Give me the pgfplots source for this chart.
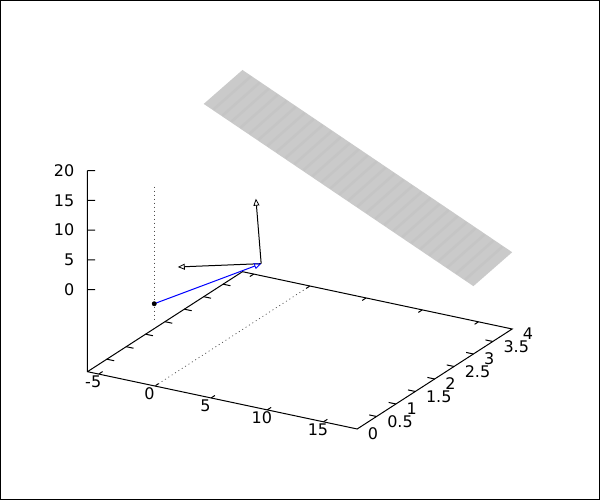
\documentclass[border=0pt]{standalone}
\usepackage{fontspec}
\setmainfont{DejaVu Sans}
\usepackage{pgfplots}
\pgfplotsset{compat=1.18}
\usetikzlibrary{arrows.meta}
\definecolor{planegray}{HTML}{CACACA}
\definecolor{stripegray}{HTML}{C5C5C5}
\tikzset{vechead/.style={-{Triangle[open, length=7pt, width=6pt, line width=0.8pt]}}}

\begin{document}
\begin{tikzpicture}
\begin{axis}[
    x={(11.2375pt,-2.3875pt)},
    y={(38.75pt,25pt)},
    z={(0pt,5.95pt)},
    xmin=-6, xmax=18,
    ymin=0, ymax=4,
    zmin=-13.8, zmax=20,
    clip=false,
    axis line style={draw=none},
    major tick length=0pt,
    xtick={-5,0,5,10,15},
    ytick={0,0.5,1,1.5,2,2.5,3,3.5,4},
    yticklabels={0,0.5,1,1.5,2,2.5,3,3.5,4},
    ztick={0,5,10,15,20},
    /pgf/number format/assume math mode=true,
    tick label style={font=\fontsize{16}{18}\selectfont, inner sep=0pt},
    xticklabel style={anchor=center, xshift=-5.5pt, yshift=-7.5pt},
    yticklabel style={anchor=west, xshift=10.5pt, yshift=-5pt},
    zticklabel style={anchor=east, xshift=-13pt},
]
% plane
\addplot3[draw=none, fill=planegray] coordinates {
    (-6,3,18.6) (-6,4,20.1) (18,4,-0.9) (18,3,-2.4)
} -- cycle;
% faint bands across the plane
\addplot3[stripegray, line width=2.5pt, line cap=butt, empty line=jump] table {
-5.2 3.02 17.9
-5.2 3.98 19.4

-4.4 3.02 17.2
-4.4 3.98 18.7

-3.6 3.02 16.5
-3.6 3.98 18.0

-2.8 3.02 15.8
-2.8 3.98 17.3

-2.0 3.02 15.1
-2.0 3.98 16.6

-1.2 3.02 14.4
-1.2 3.98 15.9

-0.4 3.02 13.7
-0.4 3.98 15.2

0.4 3.02 13.0
0.4 3.98 14.5

1.2 3.02 12.3
1.2 3.98 13.8

2.0 3.02 11.6
2.0 3.98 13.1

2.8 3.02 10.9
2.8 3.98 12.4

3.6 3.02 10.2
3.6 3.98 11.7

4.4 3.02 9.5
4.4 3.98 11.0

5.2 3.02 8.8
5.2 3.98 10.3

6.0 3.02 8.1
6.0 3.98 9.6

6.8 3.02 7.4
6.8 3.98 8.9

7.6 3.02 6.7
7.6 3.98 8.2

8.4 3.02 6.0
8.4 3.98 7.5

9.2 3.02 5.3
9.2 3.98 6.8

10.0 3.02 4.6
10.0 3.98 6.1

10.8 3.02 3.9
10.8 3.98 5.4

11.6 3.02 3.2
11.6 3.98 4.7

12.4 3.02 2.5
12.4 3.98 4.0

13.2 3.02 1.8
13.2 3.98 3.3

14.0 3.02 1.1
14.0 3.98 2.6

14.8 3.02 0.4
14.8 3.98 1.9

15.6 3.02 -0.3
15.6 3.98 1.2

16.4 3.02 -1.0
16.4 3.98 0.5

17.2 3.02 -1.7
17.2 3.98 -0.2
};
% border of the base and z axis
\addplot3[black, line width=1pt] coordinates {
    (-6,0,20) (-6,0,-13.8) (18,0,-13.8) (18,4,-13.8) (-6,4,-13.8) (-6,0,-13.8)
};
% tick marks
\addplot3[black, line width=1pt, empty line=jump] table {
-5 0 -13.8
-5 0.1 -13.8

0 0 -13.8
0 0.1 -13.8

5 0 -13.8
5 0.1 -13.8

10 0 -13.8
10 0.1 -13.8

15 0 -13.8
15 0.1 -13.8

-5 4 -13.8
-5 3.9 -13.8

0 4 -13.8
0 3.9 -13.8

5 4 -13.8
5 3.9 -13.8

10 4 -13.8
10 3.9 -13.8

15 4 -13.8
15 3.9 -13.8

-6 0.5 -13.8
-5.35 0.5 -13.8

-6 1 -13.8
-5.35 1 -13.8

-6 1.5 -13.8
-5.35 1.5 -13.8

-6 2 -13.8
-5.35 2 -13.8

-6 2.5 -13.8
-5.35 2.5 -13.8

-6 3 -13.8
-5.35 3 -13.8

-6 3.5 -13.8
-5.35 3.5 -13.8

18 0.5 -13.8
17.35 0.5 -13.8

18 1 -13.8
17.35 1 -13.8

18 1.5 -13.8
17.35 1.5 -13.8

18 2 -13.8
17.35 2 -13.8

18 2.5 -13.8
17.35 2.5 -13.8

18 3 -13.8
17.35 3 -13.8

18 3.5 -13.8
17.35 3.5 -13.8

-6 0 0
-5.49 0.049 0

-6 0 5
-5.49 0.049 5

-6 0 10
-5.49 0.049 10

-6 0 15
-5.49 0.049 15

-6 0 20
-5.49 0.049 20
};
% zero axes
\addplot3[black!70, line width=0.7pt, dash pattern=on 1pt off 3pt] coordinates {(0,0,-13.8) (0,4,-13.8)};
\addplot3[black!70, line width=0.7pt, dash pattern=on 1pt off 3pt] coordinates {(-0.06,0,19.7) (-0.06,0,-2.7)};
% vectors
\addplot3[black, line width=1pt, vechead] coordinates {(2.94,1.89,0) (2.94,1.754,11.5)};
\addplot3[black, line width=1pt, vechead] coordinates {(2.94,1.89,0) (-2.30,1.257,0)};
\addplot3[blue, line width=1pt, vechead] coordinates {(-0.06,0,0) (2.94,1.89,0)};
\addplot3[only marks, mark=*, mark size=2.2pt, black, mark options={solid, fill=black}] coordinates {(-0.06,0,0)};
\coordinate (O) at (axis cs:0,0,0);
\end{axis}
% page frame, origin of the data is at pixel (154.9,303.9)
\draw[black, line width=1pt] ([shift={(-154.4pt,303.4pt)}]O) rectangle ([shift={(444.6pt,-195.6pt)}]O);
\end{tikzpicture}
\end{document}
